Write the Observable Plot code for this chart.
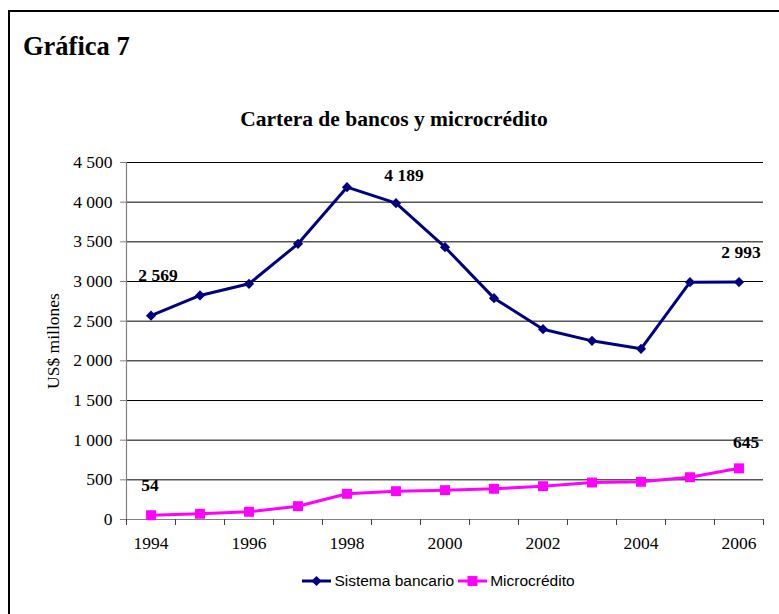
<!DOCTYPE html>
<html>
<head>
<meta charset="utf-8">
<script src="https://cdn.jsdelivr.net/npm/d3@7"></script>
<script src="https://cdn.jsdelivr.net/npm/@observablehq/plot@0.6"></script>
<style>
  html, body { margin: 0; padding: 0; background: #fff; overflow: hidden; width: 779px; height: 614px; }
  #frame { position: absolute; left: 8px; top: 10px; width: 900px; height: 800px; border-left: 2px solid #000; border-top: 2px solid #000; box-sizing: border-box; }
  #title { position: absolute; left: 23px; top: 33px; font-family: "Liberation Serif", "Times New Roman", serif; font-weight: bold; font-size: 26.5px; line-height: 1; }
  #subtitle { position: absolute; left: 8px; width: 772px; top: 109px; text-align: center; font-family: "Liberation Serif", "Times New Roman", serif; font-weight: bold; font-size: 21.5px; line-height: 1; }
  #chart { position: absolute; left: 0; top: 140px; }
  #legend { position: absolute; left: 120px; width: 637px; top: 572px; display: flex; justify-content: center; align-items: center; font-family: "Liberation Sans", Arial, sans-serif; font-size: 15.5px; color: #000; }
  #legend .item { display: flex; align-items: center; margin: 0 2px; }
  #legend svg { margin-right: 3px; }
</style>
</head>
<body>
<div id="frame"></div>
<div id="title">Gráfica 7</div>
<div id="subtitle">Cartera de bancos y microcrédito</div>
<div id="chart"></div>
<div id="legend"></div>
<script>
// ---- data ----
const years = [1994, 1995, 1996, 1997, 1998, 1999, 2000, 2001, 2002, 2003, 2004, 2005, 2006];
const sistemaBancario = [2569, 2824, 2971, 3475, 4189, 3987, 3432, 2790, 2399, 2252, 2151, 2992, 2993];
const microcredito = [54, 72, 97, 168, 324, 357, 370, 387, 420, 466, 475, 533, 645];
const seriesNames = ["Sistema bancario", "Microcrédito"];
const yTicks = [0, 500, 1000, 1500, 2000, 2500, 3000, 3500, 4000, 4500];
const xTickLabels = [1994, 1996, 1998, 2000, 2002, 2004, 2006];
// labelled points: [series index, year]
const labelled = [[0, 1994], [0, 1998], [0, 2006], [1, 1994], [1, 2006]];

// ---- styling ----
const colors = ["#000080", "#FF00FF"];
const symbols = ["diamond2", "square"];
const symbolR = [4.6, 5.6];
const labelOffsets = [[7, -40], [57, -12], [2, -30], [-1, -30], [7, -26]];
const serif = '"Liberation Serif", "Times New Roman", serif';

const fmt = v => {
  const s = String(Math.round(v));
  return s.length > 3 ? s.slice(0, s.length - 3) + " " + s.slice(-3) : s;
};

const seriesVals = [sistemaBancario, microcredito];
const rows = [];
seriesVals.forEach((vals, si) => years.forEach((yr, i) => rows.push({series: seriesNames[si], si, year: yr, value: vals[i]})));

const boundaries = years.map(y => y - 0.5).concat([years[years.length - 1] + 0.5]);

const labelMarks = labelled.map(([si, yr], k) => {
  const i = years.indexOf(yr);
  const d = {year: yr, value: seriesVals[si][i]};
  return Plot.text([d], {
    x: "year", y: "value", text: d => fmt(d.value),
    dx: labelOffsets[k][0], dy: labelOffsets[k][1],
    fontWeight: "bold", fontSize: 17.5, fill: "#000", fontFamily: serif
  });
});

const W = 779, H = 420;
const chart = Plot.plot({
  width: W, height: H,
  marginLeft: 126, marginRight: 16, marginTop: 22, marginBottom: 41,
  style: {fontFamily: serif, fontSize: "17.5px", color: "#000", background: "transparent"},
  x: {domain: [boundaries[0], boundaries[boundaries.length - 1]]},
  y: {domain: [0, 4500]},
  marks: [
    Plot.ruleY(yTicks.slice(1), {stroke: "#000", strokeWidth: 1}),
    Plot.axisY({ticks: yTicks, tickFormat: fmt, tickSize: 6, tickPadding: 8, stroke: "#808080",
      label: "US$ millones", labelAnchor: "center", labelArrow: "none", labelOffset: 80,
      fontSize: 17.5, fontFamily: serif}),
    Plot.ruleX([boundaries[0]], {stroke: "#808080", strokeWidth: 1.2}),
    Plot.ruleY([0], {stroke: "#808080", strokeWidth: 1.2}),
    Plot.axisX({ticks: boundaries, tickSize: 6, tickFormat: () => "", stroke: "#404040", label: null}),
    Plot.axisX({ticks: xTickLabels, tickSize: 0, tickPadding: 17, tickFormat: d => String(d), label: null,
      fontSize: 17.5, fontFamily: serif}),
    Plot.line(rows, {x: "year", y: "value", z: "series", stroke: d => colors[d.si], strokeWidth: 3, curve: "linear"}),
    Plot.dot(rows.filter(d => d.si === 0), {x: "year", y: "value", symbol: symbols[0], r: symbolR[0], fill: colors[0], stroke: "none"}),
    Plot.dot(rows.filter(d => d.si === 1), {x: "year", y: "value", symbol: symbols[1], r: symbolR[1], fill: colors[1], stroke: "none"}),
    ...labelMarks
  ]
});
d3.select(chart).selectAll("g, text").style("font-family", serif).style("font-variant", "normal");
document.getElementById("chart").appendChild(chart);

// legend
const legend = document.getElementById("legend");
seriesNames.forEach((name, si) => {
  const item = document.createElement("div");
  item.className = "item";
  const svg = d3.create("svg").attr("width", 29).attr("height", 14);
  svg.append("line").attr("x1", 0).attr("x2", 29).attr("y1", 7).attr("y2", 7).attr("stroke", colors[si]).attr("stroke-width", 3);
  const sym = si === 0 ? d3.symbolDiamond2 : d3.symbolSquare;
  const size = Math.PI * symbolR[si] * symbolR[si];
  svg.append("path").attr("d", d3.symbol(sym, size)()).attr("transform", "translate(14.5,7)").attr("fill", colors[si]);
  item.appendChild(svg.node());
  const span = document.createElement("span");
  span.textContent = name;
  item.appendChild(span);
  legend.appendChild(item);
});
</script>
</body>
</html>
